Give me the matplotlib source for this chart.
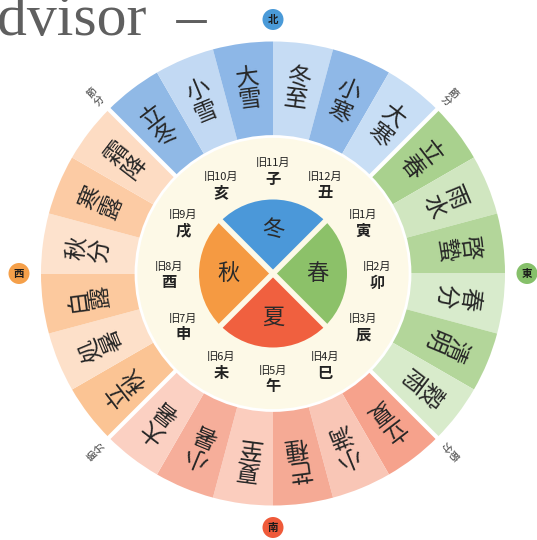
import numpy as np
import matplotlib
matplotlib.use("Agg")
from matplotlib import pyplot as plt
from matplotlib.patches import Wedge, Circle

plt.rcParams['font.family'] = ['Noto Sans CJK JP', 'DejaVu Sans']

# 24 solar terms, clockwise from the north-west diagonal
terms = ['立冬', '小雪', '大雪', '冬至', '小寒', '大寒',
         '立春', '雨水', '啓蟄', '春分', '清明', '穀雨',
         '立夏', '小満', '芒種', '夏至', '小暑', '大暑',
         '立秋', '処暑', '白露', '秋分', '寒露', '霜降']
term_colors = ['#90b9e6', '#c2d9f3', '#8db7e7', '#c6dcf4', '#8fb8e7', '#c8def5',
               '#a9d18e', '#d0e6c0', '#b3d69a', '#d8ebcc', '#b3d69a', '#d8ebcb',
               '#f6a28c', '#f9c6b6', '#f5aa95', '#fbcdbe', '#f6ae9a', '#fbd0c2',
               '#fbc494', '#fde0c9', '#fcc99e', '#fde2cd', '#fccba4', '#fddcc3']

# 12 earthly branches with old lunar months, clockwise from north
branches = ['子', '丑', '寅', '卯', '辰', '巳', '午', '未', '申', '酉', '戌', '亥']
months = ['旧11月', '旧12月', '旧1月', '旧2月', '旧3月', '旧4月',
          '旧5月', '旧6月', '旧7月', '旧8月', '旧9月', '旧10月']

seasons = ['冬', '春', '夏', '秋']
season_colors = ['#4b98d9', '#8cc169', '#f0603f', '#f59a42']

directions = ['北', '東', '南', '西']
direction_colors = ['#4a9ad8', '#86c06a', '#ef5a3a', '#f5a04a']

setsubun = '節分'

R_OUT = 232
R_IN = 137
R_PIE = 74

fig = plt.figure(figsize=(5.37, 5.40), dpi=100)
ax = fig.add_axes([0, 0, 1, 1])
ax.set_xlim(-273, 264)
ax.set_ylim(-266.5, 273.5)
ax.set_aspect('equal')
ax.axis('off')

# outer ring of solar terms
for i, (name, col) in enumerate(zip(terms, term_colors)):
    t2 = 135 - 15 * i
    t1 = t2 - 15
    ax.add_patch(Wedge((0, 0), R_OUT, t1, t2, width=R_OUT - R_IN,
                       facecolor=col, edgecolor='none'))
    mid = np.radians((t1 + t2) / 2)
    r = 186
    ax.text(r * np.cos(mid), r * np.sin(mid), name[0] + '\n' + name[1],
            rotation=(t1 + t2) / 2 - 90, rotation_mode='anchor',
            ha='center', va='center', fontsize=17, color='#262626',
            linespacing=1.0)

# white separators between seasons
for a in [45, 135, 225, 315]:
    ra = np.radians(a)
    ax.plot([R_IN * np.cos(ra), (R_OUT + 2) * np.cos(ra)],
            [R_IN * np.sin(ra), (R_OUT + 2) * np.sin(ra)],
            color='white', lw=3, solid_capstyle='butt')

# cream inner disk
ax.add_patch(Circle((0, 0), R_IN, facecolor='#fdf9e7', edgecolor='white', lw=2))

for i, (b, m) in enumerate(zip(branches, months)):
    a = np.radians(90 - 30 * i)
    x, y = 104 * np.cos(a), 104 * np.sin(a)
    ax.text(x, y + 7, m, ha='center', va='center', fontsize=8, color='#222222')
    ax.text(x, y - 9, b, ha='center', va='center', fontsize=11,
            fontweight='bold', color='#222222')

# center seasons pie
for i, (s, col) in enumerate(zip(seasons, season_colors)):
    c = 90 - 90 * i
    ax.add_patch(Wedge((0, 0), R_PIE, c - 45, c + 45, facecolor=col, edgecolor='none'))
    a = np.radians(c)
    ax.text(44 * np.cos(a), 44 * np.sin(a), s, ha='center', va='center',
            fontsize=16, color='#2a2a2a')
for a in [45, 135]:
    ra = np.radians(a)
    ax.plot([-(R_PIE + 2) * np.cos(ra), (R_PIE + 2) * np.cos(ra)],
            [-(R_PIE + 2) * np.sin(ra), (R_PIE + 2) * np.sin(ra)],
            color='#fdf9e7', lw=4, solid_capstyle='butt')

# cardinal direction badges
for i, (d, col) in enumerate(zip(directions, direction_colors)):
    a = np.radians(90 - 90 * i)
    x, y = 254 * np.cos(a), 254 * np.sin(a)
    ax.add_patch(Circle((x, y), 10.5, facecolor=col, edgecolor='none'))
    ax.text(x, y, d, ha='center', va='center', fontsize=7.5,
            fontweight='bold', color='#1a1a1a')

# setsubun marks on the diagonals
for a in [135, 45, -45, -135]:
    ra = np.radians(a)
    ax.text(250 * np.cos(ra), 250 * np.sin(ra), setsubun[0] + '\n' + setsubun[1],
            rotation=a - 90, rotation_mode='anchor', ha='center', va='center',
            fontsize=7, color='#333333', linespacing=1.0)

fig.text(-3 / 537, 1 - 35 / 540, 'dvisor  –', fontsize=43, color='#5f5f5f',
         family='Liberation Serif', ha='left', va='baseline')

fig.savefig('out.png', dpi=100)
